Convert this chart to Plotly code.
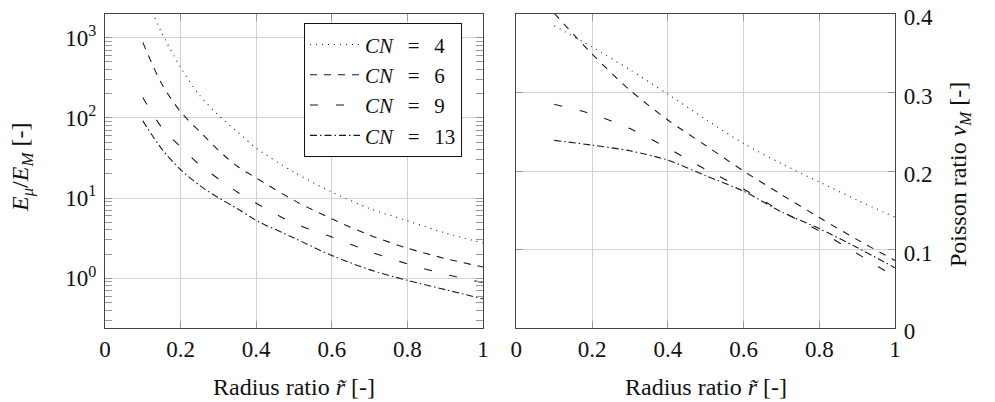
import plotly.graph_objects as go

# ---------------- data ----------------
r_left = [0.1, 0.15, 0.2, 0.25, 0.3, 0.35, 0.4, 0.5, 0.6, 0.7, 0.8, 0.9, 1.0]
E_cn4 = [3900, 1150, 426, 192, 108, 67, 42, 21, 11.9, 7.4, 5.2, 3.67, 2.75]
E_cn6 = [875, 266, 119, 68, 39.5, 24.9, 17.8, 9.35, 5.5, 3.45, 2.37, 1.76, 1.38]
E_cn9 = [180, 76, 43.5, 26, 17.4, 11.9, 8.6, 4.84, 3.27, 2.15, 1.51, 1.12, 0.88]
E_cn13 = [91.7, 41, 22.6, 14.4, 10.1, 7.4, 5.27, 3.18, 1.92, 1.28, 0.94, 0.72, 0.553]

r_right = [0.1, 0.2, 0.3, 0.4, 0.5, 0.6, 0.7, 0.8, 0.9, 1.0]
nu_cn4 = [0.385, 0.358, 0.329, 0.298, 0.266, 0.235, 0.2095, 0.186, 0.163, 0.141]
nu_cn6 = [0.401, 0.349, 0.303, 0.265, 0.2325, 0.200, 0.170, 0.1407, 0.1126, 0.086]
nu_cn9 = [0.285, 0.2725, 0.254, 0.229, 0.202, 0.177, 0.1487, 0.1236, 0.0948, 0.065]
nu_cn13 = [0.239, 0.233, 0.2257, 0.2138, 0.194, 0.1743, 0.148, 0.1266, 0.1025, 0.0766]

SP = "\u2002\u2009"
series_names = [f"<i>CN</i>{SP}={SP}4", f"<i>CN</i>{SP}={SP}6",
                f"<i>CN</i>{SP}={SP}9", f"<i>CN</i>{SP}={SP}13"]
x_ticks = [0, 0.2, 0.4, 0.6, 0.8, 1]
x_ticktext = ["0", "0.2", "0.4", "0.6", "0.8", "1"]
logy_ticks = [1, 10, 100, 1000]
logy_ticktext = ["10<sup>0</sup>", "10<sup>1</sup>", "10<sup>2</sup>", "10<sup>3</sup>"]
nu_ticks = [0, 0.1, 0.2, 0.3, 0.4]
nu_ticktext = ["0", "0.1", "0.2", "0.3", "0.4"]

# ---------------- styling ----------------
FONT = "Liberation Serif, Times New Roman, serif"
LINE_COL = "#1a1a1a"
dashes = ["1px,5px", "7px,7px", "8px,18px", "7px,3px,1.5px,3px"]
minor_log = [v * 10 ** e for e in range(-1, 4) for v in range(2, 10)]
minor_log = [v for v in minor_log if 0.24 <= v <= 1990]

fig = go.Figure()
left_sets = [E_cn4, E_cn6, E_cn9, E_cn13]
right_sets = [nu_cn4, nu_cn6, nu_cn9, nu_cn13]
for name, ys, d in zip(series_names, left_sets, dashes):
    fig.add_trace(go.Scatter(x=r_left, y=ys, mode="lines", name=name,
                             line=dict(color=LINE_COL, width=1.1, dash=d, shape="spline", smoothing=0.8),
                             xaxis="x", yaxis="y"))
for name, ys, d in zip(series_names, right_sets, dashes):
    fig.add_trace(go.Scatter(x=r_right, y=ys, mode="lines", name=name, showlegend=False,
                             line=dict(color=LINE_COL, width=1.1, dash=d, shape="spline", smoothing=0.8),
                             xaxis="x2", yaxis="y2"))

# the page body adds an 8px offset; size the figure to the remaining area
OFF = 8
W, H = 995 - OFF, 402 - OFF
def px(x):
    return (x - OFF) / W
def py(y):
    return 1 - (y - OFF) / H

TS = 23
axis_common = dict(showline=True, linecolor="#444", linewidth=1.2, mirror="ticks",
                   showgrid=True, gridcolor="#d2d2d2", gridwidth=1,
                   ticks="inside", ticklen=7, tickwidth=1, tickcolor="#999",
                   tickfont=dict(family=FONT, size=TS, color="#111"), zeroline=False,
                   automargin=False, ticklabeloverflow="allow")

fig.update_layout(
    width=W, height=H,
    margin=dict(l=0, r=0, t=0, b=0, pad=0, autoexpand=False),
    paper_bgcolor="white", plot_bgcolor="white",
    font=dict(family=FONT, size=TS, color="#111"),
    xaxis=dict(domain=[px(105), px(483)], range=[0, 1], tickvals=x_ticks, ticktext=x_ticktext,
               anchor="y", ticklabelstandoff=0, **axis_common),
    yaxis=dict(domain=[py(328), py(14)], type="log", range=[-0.621, 3.296],
               tickvals=logy_ticks, ticktext=logy_ticktext, anchor="x",
               minor=dict(tickvals=minor_log, ticks="inside", ticklen=7, tickcolor="#999", showgrid=False),
               ticklabelstandoff=3, **axis_common),
    xaxis2=dict(domain=[px(516.3), px(895)], range=[0, 1], tickvals=x_ticks, ticktext=x_ticktext,
                anchor="y2", ticklabelstandoff=0, **axis_common),
    yaxis2=dict(domain=[py(328), py(14)], range=[0, 0.4], tickvals=nu_ticks, ticktext=nu_ticktext,
                anchor="x2", side="right", ticklabelstandoff=3, ticklabelshift=3, **axis_common),
    legend=dict(x=px(304), y=py(23.3), xanchor="left", yanchor="top",
                bgcolor="white", bordercolor="#111", borderwidth=1,
                font=dict(family=FONT, size=21, color="#111"), itemwidth=50,
                tracegroupgap=0),
    showlegend=True,
)

title_font = dict(family=FONT, size=24, color="#111")
fig.add_annotation(text="Radius ratio <i>r\u0303</i> [-]", x=px(294), y=py(387), xref="paper", yref="paper",
                   showarrow=False, font=title_font, xanchor="center", yanchor="middle")
fig.add_annotation(text="Radius ratio <i>r\u0303</i> [-]", x=px(705.7), y=py(387), xref="paper", yref="paper",
                   showarrow=False, font=title_font, xanchor="center", yanchor="middle")
fig.add_annotation(text="<i>E</i><sub><i>\u03bc</i></sub>/<i>E</i><sub><i>M</i></sub> [-]",
                   x=px(22), y=py(168), xref="paper", yref="paper", textangle=-90,
                   showarrow=False, font=title_font, xanchor="center", yanchor="middle")
fig.add_annotation(text="Poisson ratio <i>\u03bd</i><sub><i>M</i></sub> [-]",
                   x=px(960), y=py(175), xref="paper", yref="paper", textangle=-90,
                   showarrow=False, font=title_font, xanchor="center", yanchor="middle")

fig.write_html("out.html")
